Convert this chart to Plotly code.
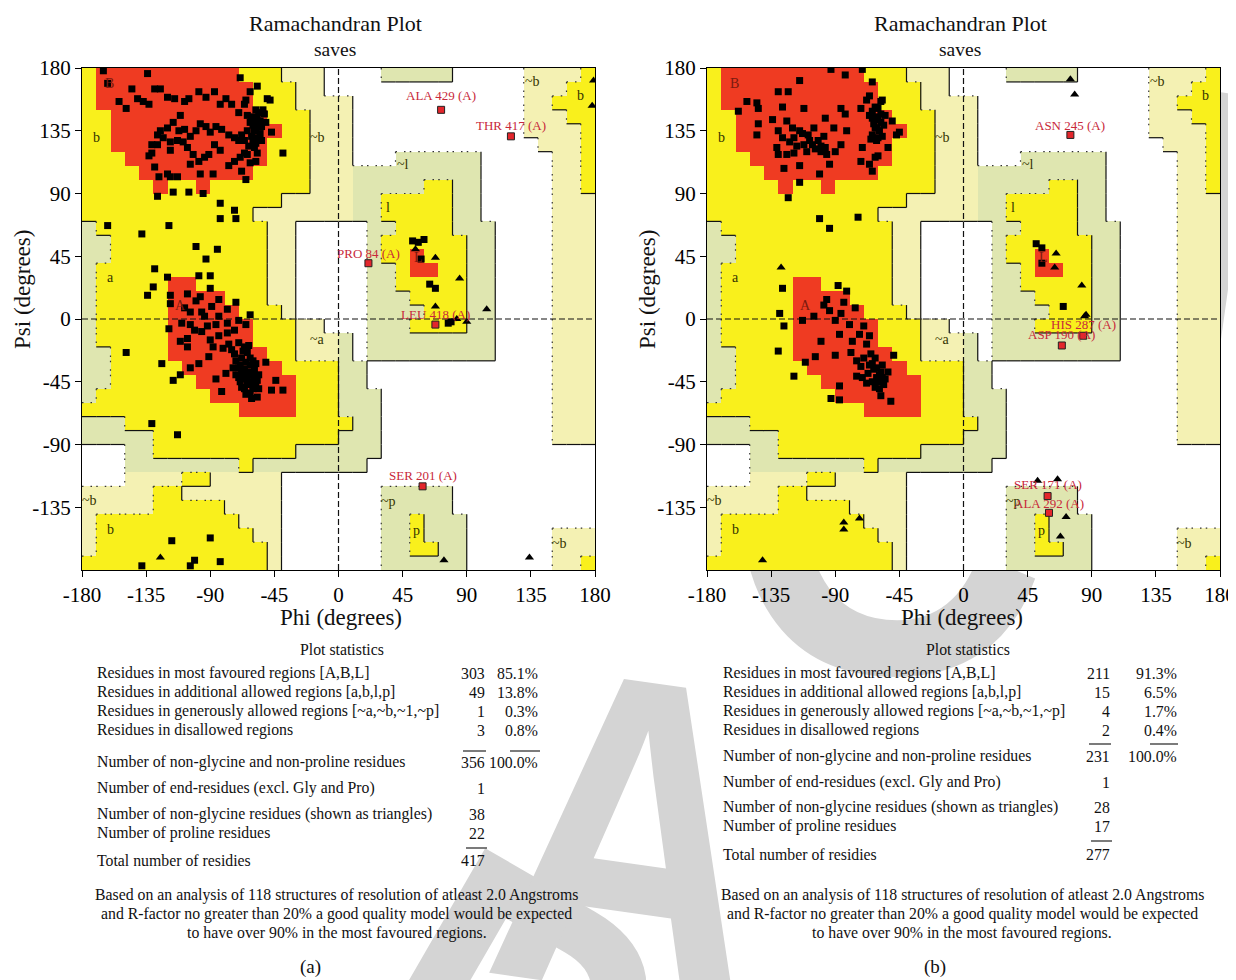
import base64
import plotly.graph_objects as go

W, H = 1236, 980
OFF = 8  # page body margin of the viewer
FONT = "Liberation Serif"

# ---------------- region map (10 degree cells), top row = psi 170..180, col 0 = phi -180..-170
# '.' disallowed, 'p' generous (pale yellow), 'g' generous (pale green), 'y' allowed, 'r' core
REGION_ROWS = [
    "y" + "r"*10 + "y"*3 + "p"*3 + "."*4 + "g"*5 + "."*5 + "p"*4 + "y",
    "y" + "r"*11 + "y"*3 + "p"*2 + "."*14 + "p"*3 + "y"*2,
    "y" + "r"*11 + "y"*3 + "p"*4 + "."*12 + "p"*2 + "y"*3,
    "y"*2 + "r"*11 + "y"*3 + "p"*3 + "."*12 + "p"*3 + "y"*2,
    "y"*2 + "r"*12 + "y"*2 + "p"*3 + "."*12 + "p"*4 + "y",
    "y"*2 + "r"*11 + "y"*3 + "p"*3 + "."*13 + "p"*3 + "y",
    "y"*3 + "r"*10 + "y"*3 + "p"*3 + "."*3 + "g"*6 + "."*5 + "p"*2 + "y",
    "y"*4 + "r"*8 + "y"*4 + "p"*3 + "g"*9 + "."*5 + "p"*2 + "y",
    "y"*5 + "r" + "y"*2 + "r" + "y"*7 + "p"*3 + "g"*5 + "y"*2 + "g"*2 + "."*5 + "p"*2 + "y",
    "y"*14 + "p"*5 + "g"*2 + "y"*5 + "g"*2 + "."*5 + "p"*3,
    "y"*12 + "p"*7 + "g"*2 + "y"*5 + "g"*2 + "."*5 + "p"*3,
    "g" + "y"*12 + "p"*2 + "."*5 + "g"*2 + "y"*4 + "g"*3 + "."*4 + "p"*3,
    "g"*2 + "y"*11 + "p"*2 + "."*5 + "g" + "y"*6 + "g"*2 + "."*4 + "p"*3,
    "g"*2 + "y"*11 + "p"*2 + "."*5 + "g" + "y"*2 + "r" + "y"*3 + "g"*2 + "."*4 + "p"*3,
    "g" + "y"*12 + "p"*2 + "."*5 + "g"*2 + "y" + "r"*2 + "y"*2 + "g"*2 + "."*4 + "p"*3,
    "g" + "y"*5 + "r"*2 + "y"*5 + "p"*2 + "."*5 + "g"*2 + "y"*5 + "g"*2 + "."*4 + "p"*3,
    "g" + "y"*5 + "r"*4 + "y"*3 + "p"*2 + "."*5 + "g"*3 + "y"*4 + "g"*2 + "."*4 + "p"*3,
    "g" + "y"*5 + "r"*5 + "y"*3 + "p" + "."*5 + "g"*4 + "y"*3 + "g"*2 + "."*4 + "p"*3,
    "g" + "y"*5 + "r"*6 + "y"*3 + "p"*2 + "."*3 + "g"*3 + "y"*4 + "g"*2 + "."*4 + "p"*3,
    "g" + "y"*5 + "r"*6 + "y"*3 + "p"*3 + "g" + "." + "g"*9 + "."*4 + "p"*3,
    "g"*2 + "y"*4 + "r"*7 + "y"*2 + "p"*3 + "g" + "." + "g"*9 + "."*4 + "p"*3,
    "g"*2 + "y"*5 + "r"*7 + "y"*4 + "g"*2 + "."*13 + "p"*3,
    "g"*2 + "y"*6 + "r"*7 + "y"*3 + "g"*2 + "."*13 + "p"*3,
    "g" + "y"*8 + "r"*6 + "y"*3 + "g"*3 + "."*12 + "p"*3,
    "y"*11 + "r"*4 + "y"*3 + "g"*3 + "."*12 + "p"*3,
    "g"*3 + "y"*16 + "g"*2 + "."*12 + "p"*3,
    "g"*5 + "y"*13 + "g"*3 + "."*12 + "p"*3,
    "."*3 + "g"*2 + "y"*10 + "g"*6 + "."*15,
    "."*3 + "g"*8 + "y" + "g"*8 + "."*16,
    "."*3 + "p"*4 + "y"*2 + "p"*5 + "."*22,
    "p"*5 + "y"*2 + "p"*7 + "."*7 + "g"*5 + "."*10,
    "p"*5 + "y"*5 + "p"*4 + "."*7 + "g"*5 + "."*10,
    "p" + "y"*10 + "p"*3 + "."*7 + "g"*2 + "y" + "g"*3 + "."*9,
    "p" + "y"*11 + "p"*2 + "."*7 + "g"*2 + "y" + "g"*3 + "."*6 + "p"*3,
    "p" + "y"*12 + "p" + "."*7 + "g"*2 + "y"*2 + "g"*2 + "."*6 + "p"*3,
    "y"*13 + "p" + "."*7 + "g"*6 + "."*6 + "p"*2 + "y",
]
REGION_CODE = {".": 0, "p": 1, "g": 2, "y": 3, "r": 4}
REGION_RANK = {".": 0, "p": 1, "g": 1, "y": 2, "r": 3}
REGION_COLORS = ["#ffffff", "#f4f1b3", "#dfe6b0", "#f9f01c", "#ef3b22"]

TICKS = [-180, -135, -90, -45, 0, 45, 90, 135, 180]
TICK_TEXT = ["-180", "-135", "-90", "-45", "0", "45", "90", "135", "180"]

REGION_LABELS = [
    ("B", -161, 169), ("b", -170, 130), ("~b", -15, 130), ("~b", 136, 170), ("b", 170, 160),
    ("~l", 45, 111), ("l", 35, 80), ("L", 56, 44), ("a", -160, 30), ("A", -111, 10),
    ("~a", -15, -15), ("~b", -175, -130), ("b", -160, -151), ("~p", 35, -131),
    ("p", 55, -152), ("~b", 155, -161),
]

# ---------------- panel (a)
A_SQ_PHI = [-165,-162,-134,-154,-149,-145,-141,-137,-133,-129,-125,-120,-115,-111,-108,-105,-98,-93,-87,-83,-79,-75,-70,-69,-66,-65,-64,-62,-61,-59,-58,-57,-55,-54,-52,-51,-59,-64,-68,-70,-73,-77,-82,-86,-90,-93,-97,-100,-104,-108,-112,-116,-120,-125,-127,-131,-131,-127,-123,-118,-113,-109,-106,-102,-98,-94,-91,-87,-83,-77,-73,-69,-66,-64,-59,-57,-58,-62,-65,-68,-97,-88,-104,-118,-120,-118,-113,-126,-129,-133,-48,-39,-50,-47,-56,-58,-60,-53,-56,-57,-60,-62,-55,-57,-61,-66,-63,-60,-54,-58,
            -127,-116,-105,-95,-83,-73,-83,-72,-119,-138,-162,-100,-85,-93,-129,-120,-90,-98,-130,-134,-118,
            -118,-108,-100,-96,-89,-84,-62,-65,-70,-94,-104,-86,-78,-96,-90,-106,-119,-111,-106,-104,-98,-91,-86,-82,-79,-73,-69,-44,-47,-39,-57,-51,-59,-68,-62,-149,-124,-116,-111,-131,-113,
            -66,-64,-62,-68,-70,-66,-63,-60,-64,-67,-61,-58,-63,-66,-60,-57,-62,-65,-72,-75,-74,-70,-65,-61,-59,-56,-68,-72,-67,-63,-60,-58,-69,-64,-62,-66,-60,-56,-70,-77,-81,-84,-88,-73,-78,-92,-101,-110,-104,-97,-90,-84,-78,-72,-106,
            -117,-90,-101,-104,-83,-138,
            77,79,52,56,60,58,64,68]
A_SQ_PSI = [178,169,176,156,151,165,158,156,154,165,165,159,158,146,156,158,163,159,163,154,158,154,148,173,154,157,146,163,143,141,137,167,142,138,147,141,135,135,132,128,130,132,136,138,134,138,140,135,131,136,135,141,137,135,132,125,119,125,130,127,128,127,123,118,113,116,118,125,121,110,113,116,119,118,123,119,113,112,100,106,104,104,111,121,104,102,102,102,109,117,157,119,158,134,148,150,145,150,140,144,139,141,133,130,131,128,124,127,128,126,
            88,91,91,90,83,78,72,72,67,61,67,52,50,43,36,30,31,31,23,17,17,
            11,8,13,5,9,2,3,-4,-1,2,-4,-4,-10,-9,-15,-20,-7,-16,-14,-35,-32,-27,-43,-52,-39,-25,-33,-44,-51,-51,-56,-31,-43,-49,-53,-24,-32,-44,-40,-75,-83,
            -20,-24,-28,-28,-35,-36,-38,-40,-42,-43,-45,-46,-47,-50,-50,-44,-33,-31,-30,-22,-35,-42,-54,-57,-36,-40,-38,-40,-23,-19,-30,-32,-45,-46,-40,-40,-48,-50,-17,-18,-21,-12,-20,-8,-3,-5,-8,-3,5,16,22,14,7,12,18,
            -159,-157,-173,-177,-174,-177,
            -3,-2,56,55,57,43,25,22]
A_TRI_PHI = [-125, 54, 68, 85, 68, 104, 90, 83, 74, 134, 179, 178]
A_TRI_PSI = [-171, 50, 44, 29, 9, 7, -2, 0, -173, -171, 171, 153]
A_FLAG_NAME = ["ALA 429 (A)", "THR 417 (A)", "PRO 84 (A)", "LEU 418 (A)", "SER 201 (A)"]
A_FLAG_PHI = [72, 121, 21, 68, 59]
A_FLAG_PSI = [150, 131, 40, -4, -120]
A_FLAG_TEXT_PSI = [160, 139, 47, 3, -112]

A_STATS_LABELS = ["Residues in most favoured regions [A,B,L]",
                  "Residues in additional allowed regions [a,b,l,p]",
                  "Residues in generously allowed regions [~a,~b,~1,~p]",
                  "Residues in disallowed regions",
                  "Number of non-glycine and non-proline residues",
                  "Number of end-residues (excl. Gly and Pro)",
                  "Number of non-glycine residues (shown as triangles)",
                  "Number of proline residues",
                  "Total number of residies"]
A_STATS_COUNTS = ["303", "49", "1", "3", "356", "1", "38", "22", "417"]
A_STATS_PCT = ["85.1%", "13.8%", "0.3%", "0.8%", "100.0%", "", "", "", ""]

# ---------------- panel (b)
B_SQ_PHI = [-93,-83,-71,-64,-115,-130,-123,-112,-152,-145,-144,-158,-127,-134,-144,-145,-130,-124,-120,-119,-115,-109,-106,-102,-100,-97,-91,-97,-86,-83,-82,-86,-90,-94,-101,-115,-126,-119,-124,-130,-131,-127,-72,-68,-66,-64,-62,-60,-58,-57,-61,-64,-65,-53,-50,-47,-45,-71,-72,-66,-64,-62,-60,-123,-115,-101,-94,-74,
            -63,-60,-58,-62,-56,-59,-61,-57,-55,-64,-60,-58,-62,-66,-112,-110,-108,-104,-96,-100,-117,-113,-122,-105,-98,
            -127,-129,-130,-119,-126,-111,-113,-105,-98,-94,-90,-86,-87,-100,-104,-90,-79,-78,-75,-68,-65,-64,-61,-58,-57,-60,-62,-56,-51,-58,-67,-71,-75,-87,-93,-87,-49,-80,-73,
            -96,-84,-82,-88,-76,-70,-66,-63,-59,-55,-61,-64,-59,-66,-70,-62,-53,-57,-68,-72,
            51,55,70,55]
B_SQ_PSI = [179,175,179,170,171,163,163,151,156,155,151,149,152,143,140,132,135,142,137,130,135,132,125,128,120,123,137,144,151,147,135,125,120,111,104,110,108,119,118,118,123,130,151,157,160,149,145,151,156,157,137,132,129,123,142,132,134,123,113,111,106,116,117,87,98,72,65,73,
            140,143,147,152,139,135,128,131,146,144,130,141,137,146,125,120,128,122,118,124,124,133,127,137,131,
            22,4,-23,-41,-5,-31,-1,2,10,6,-1,4,-11,-16,-27,-26,-24,-16,-30,-18,-25,-32,-35,-38,-42,-45,-49,-47,-59,-55,-39,-42,-41,-48,-57,-58,-26,-4,-11,
            14,12,20,24,8,-5,-12,-36,-40,-43,-42,-45,-50,-33,-28,-28,-38,-33,-46,-34,
            54,51,9,40]
B_TRI_PHI = [-128, 75, 78, 65, 64, 83, 85, 86, 52, 66, 72, 68, -84, -84, -73, -141]
B_TRI_PSI = [37, 172, 161, 47, 37, 24, 2, 3, -116, -115, -142, -156, -146, -151, -143, -173]
B_FLAG_NAME = ["ASN 245 (A)", "HIS 287 (A)", "ASP 190 (A)", "SER 171 (A)", "ALA 292 (A)"]
B_FLAG_PHI = [75, 84, 69, 59, 60]
B_FLAG_PSI = [132, -12, -19, -127, -139]
B_FLAG_TEXT_PSI = [139, -4, -11, -119, -132]

B_STATS_LABELS = A_STATS_LABELS
B_STATS_COUNTS = ["211", "15", "4", "2", "231", "1", "28", "17", "277"]
B_STATS_PCT = ["91.3%", "6.5%", "1.7%", "0.4%", "100.0%", "", "", "", ""]

FOOTNOTE = ["Based on an analysis of 118 structures of resolution of atleast 2.0 Angstroms",
            "and R-factor no greater than 20% a good quality model would be expected",
            "to have over 90% in the most favoured regions."]

# ---------------- helpers (screen pixel -> paper fraction)
def px(x, y):
    return (x - OFF) / W, 1 - (y - OFF) / H

def dom_x(a, b):
    return [(a - OFF) / W, (b - OFF) / W]

fig = go.Figure()

grid = [row for row in REGION_ROWS]
z = [[REGION_CODE[ch] for ch in grid[r]] for r in range(35, -1, -1)]
centers = [-175 + 10 * i for i in range(36)]
cs = []
n = len(REGION_COLORS)
for i, c in enumerate(REGION_COLORS):
    cs.append([i / n, c])
    cs.append([(i + 1) / n, c])

# boundary segments
solid_x, solid_y, dot_x, dot_y = [], [], [], []
for r in range(36):
    for c in range(35):
        a, b = grid[r][c], grid[r][c + 1]
        if "r" in (a, b):
            continue
        xl = -170 + 10 * c
        seg_y = [180 - 10 * r, 170 - 10 * r, None]
        if REGION_RANK[a] > REGION_RANK[b]:
            solid_x += [xl, xl, None]; solid_y += seg_y
        elif REGION_RANK[a] < REGION_RANK[b]:
            dot_x += [xl, xl, None]; dot_y += seg_y
for r in range(35):
    for c in range(36):
        a, b = grid[r][c], grid[r + 1][c]
        if "r" in (a, b):
            continue
        yl = 170 - 10 * r
        seg_x = [-180 + 10 * c, -170 + 10 * c, None]
        if REGION_RANK[a] > REGION_RANK[b]:
            solid_x += seg_x; solid_y += [yl, yl, None]
        elif REGION_RANK[a] < REGION_RANK[b]:
            dot_x += seg_x; dot_y += [yl, yl, None]

panels = [
    ("x", "y", A_SQ_PHI, A_SQ_PSI, A_TRI_PHI, A_TRI_PSI, A_FLAG_NAME, A_FLAG_PHI, A_FLAG_PSI, A_FLAG_TEXT_PSI),
    ("x2", "y2", B_SQ_PHI, B_SQ_PSI, B_TRI_PHI, B_TRI_PSI, B_FLAG_NAME, B_FLAG_PHI, B_FLAG_PSI, B_FLAG_TEXT_PSI),
]

annotations = []
for xa, ya, sqx, sqy, trx, try_, fn, fx, fy, fty in panels:
    fig.add_trace(go.Heatmap(x=centers, y=centers, z=z, colorscale=cs, zmin=-0.5, zmax=n - 0.5,
                             showscale=False, xaxis=xa, yaxis=ya, hoverinfo="skip"))
    fig.add_trace(go.Scatter(x=solid_x, y=solid_y, mode="lines", line=dict(color="#111", width=1.2),
                             xaxis=xa, yaxis=ya, hoverinfo="skip", showlegend=False))
    fig.add_trace(go.Scatter(x=dot_x, y=dot_y, mode="lines", line=dict(color="#333", width=1.2, dash="1.5px,7px"),
                             xaxis=xa, yaxis=ya, hoverinfo="skip", showlegend=False))
    fig.add_trace(go.Scatter(x=[0, 0, None, -180, 180], y=[-180, 180, None, 0, 0], mode="lines",
                             line=dict(color="#111", width=1.2, dash="6px,3px"),
                             xaxis=xa, yaxis=ya, hoverinfo="skip", showlegend=False))
    for lab, lx, ly in REGION_LABELS:
        annotations.append(dict(x=lx, y=ly, xref=xa, yref=ya, text=lab, showarrow=False,
                                font=dict(family=FONT, size=14,
                                          color="#7a1a10" if lab in ("A", "B", "L") else "#333300")))
    fig.add_trace(go.Scatter(x=sqx, y=sqy, mode="markers", xaxis=xa, yaxis=ya, showlegend=False,
                             marker=dict(symbol="square", size=7, color="black")))
    fig.add_trace(go.Scatter(x=trx, y=try_, mode="markers", xaxis=xa, yaxis=ya, showlegend=False,
                             marker=dict(symbol="triangle-up", size=8, color="black")))
    fig.add_trace(go.Scatter(x=fx, y=fy, mode="markers", xaxis=xa, yaxis=ya, showlegend=False,
                             marker=dict(symbol="square", size=7, color="#e3262c",
                                         line=dict(color="#222", width=1))))
    for name, nx, ny in zip(fn, fx, fty):
        annotations.append(dict(x=nx, y=ny, xref=xa, yref=ya, text=name, showarrow=False,
                                font=dict(family=FONT, size=13, color="#c8283a")))

axis_common = dict(range=[-180, 180], showgrid=False, zeroline=False, showline=True, linecolor="black",
                   linewidth=1.2, mirror=True, ticks="outside", ticklen=6, tickwidth=1.2, tickcolor="black",
                   automargin=False, tickfont=dict(family=FONT, size=21, color="black"))
xt = dict(tickvals=TICKS, ticktext=TICK_TEXT)
yt = dict(tickvals=TICKS[1:], ticktext=TICK_TEXT[1:])
ydom = [1 - (570 - OFF) / H, 1 - (68 - OFF) / H]

fig.update_layout(
    width=W, height=H, margin=dict(l=0, r=0, t=0, b=0, pad=0, autoexpand=False),
    paper_bgcolor="white", plot_bgcolor="white", showlegend=False,
    xaxis=dict(domain=dom_x(82, 595), anchor="y", **axis_common, **xt),
    yaxis=dict(domain=ydom, anchor="x", **axis_common, **yt),
    xaxis2=dict(domain=dom_x(707, 1220), anchor="y2", **axis_common, **xt),
    yaxis2=dict(domain=ydom, anchor="x2", **axis_common, **yt),
)

TXT = 15.8

def text_ann(x, y, s, size=TXT, xanchor="center", textangle=0):
    px_, py_ = px(x, y)
    annotations.append(dict(x=px_, y=py_, xref="paper", yref="paper", text=s, showarrow=False,
                            xanchor=xanchor, yanchor="middle", textangle=textangle,
                            font=dict(family=FONT, size=size, color="#111")))

for cx in (335, 960):
    text_ann(cx, 24, "Ramachandran Plot", 22)
    text_ann(cx, 50, "saves", 19.5)
text_ann(341, 617, "Phi (degrees)", 23)
text_ann(962, 617, "Phi (degrees)", 23)
text_ann(22, 290, "Psi (degrees)", 23, textangle=-90)
text_ann(647, 290, "Psi (degrees)", 23, textangle=-90)

tables = [
    (342, 95, 486, 539, [673, 692, 711, 730, 762, 788, 814, 833, 860], A_STATS_LABELS, A_STATS_COUNTS, A_STATS_PCT,
     337, "(a)", 310, [(463, 486, 751), (510, 540, 751), (466, 487, 848)]),
    (968, 721, 1111, 1178, [673, 692, 711, 730, 756, 782, 807, 826, 854], B_STATS_LABELS, B_STATS_COUNTS, B_STATS_PCT,
     962, "(b)", 935, [(1089, 1111, 744), (1150, 1178, 744), (1091, 1112, 841)]),
]
shapes = []
for hx, lx, cnx, pcx, rows_y, labels, counts, pcts, parx, tag, tagx, overl in tables:
    text_ann(hx, 649, "Plot statistics", TXT)
    for yy, lab, cnt, pct in zip(rows_y, labels, counts, pcts):
        text_ann(lx, yy, lab, TXT, xanchor="left")
        text_ann(cnx + 1, yy, cnt, TXT, xanchor="right")
        if pct:
            text_ann(pcx + 1, yy, pct, TXT, xanchor="right")
    for i, line in enumerate(FOOTNOTE):
        text_ann(parx, 895 + 19 * i, line, TXT)
    text_ann(tagx, 967, tag, 19)
    for x0, x1, yy in overl:
        a0 = px(x0, yy); a1 = px(x1, yy)
        shapes.append(dict(type="line", xref="paper", yref="paper", x0=a0[0], x1=a1[0], y0=a0[1], y1=a1[1],
                           line=dict(color="#222", width=1.2)))

# watermark letters (drawn beneath the plotting areas): letter, x, y, size, rotation, x-scale, anchor
WM_LETTERS = [("R", 309, 1104, 450, 30, 0.82, "start"),
              ("A", 612, 990, 450, 8, 0.82, "middle"),
              ("C", 885, 672, 500, 0, 0.9, "middle"),
              ("T", 1180, 420, 480, 8, 0.85, "middle")]
svg = ['<svg xmlns="http://www.w3.org/2000/svg" width="%d" height="%d" viewBox="0 0 %d %d">' % (W, H, W, H),
       '<g transform="translate(%d %d)" fill="#d4d4d4" font-family="Liberation Sans, Arial, sans-serif" '
       'font-weight="bold">' % (-OFF, -OFF)]
for ch, sx, sy, fs, rot, scx, anchor in WM_LETTERS:
    svg.append('<text x="0" y="0" font-size="%d" text-anchor="%s" '
               'transform="translate(%d %d) rotate(%d) scale(%.3f 1)">%s</text>' % (fs, anchor, sx, sy, rot, scx, ch))
svg.append('</g></svg>')
uri = "data:image/svg+xml;base64," + base64.b64encode("".join(svg).encode()).decode()

fig.update_layout(annotations=annotations, shapes=shapes,
                  images=[dict(source=uri, xref="paper", yref="paper", x=0, y=1, sizex=1, sizey=1,
                               xanchor="left", yanchor="top", sizing="stretch", layer="below")])

fig.write_html("out.html")
